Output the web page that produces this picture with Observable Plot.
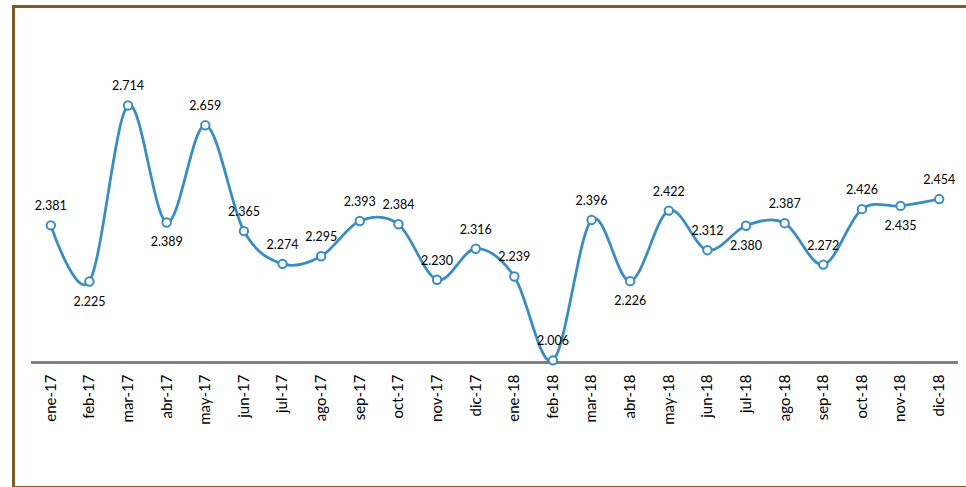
<!DOCTYPE html>
<html>
<head>
<meta charset="utf-8">
<script src="https://cdn.jsdelivr.net/npm/d3@7"></script>
<script src="https://cdn.jsdelivr.net/npm/@observablehq/plot@0.6"></script>
<style>
  html, body { margin: 0; padding: 0; background: #fff; }
  #wrap { position: relative; width: 966px; height: 487px; overflow: hidden; }
  #frame { position: absolute; left: 12px; top: 5px; width: 980px; height: 478px;
           border: 3px solid #7b5c22; box-sizing: content-box; pointer-events: none; }
  #chart { position: absolute; left: 0; top: 0; }
</style>
</head>
<body>
<div id="wrap"><div id="chart"></div><div id="frame"></div></div>
<script>
const months = ["ene-17","feb-17","mar-17","abr-17","may-17","jun-17","jul-17","ago-17","sep-17","oct-17","nov-17","dic-17",
                "ene-18","feb-18","mar-18","abr-18","may-18","jun-18","jul-18","ago-18","sep-18","oct-18","nov-18","dic-18"];
const values = [2.381,2.225,2.714,2.389,2.659,2.365,2.274,2.295,2.393,2.384,2.230,2.316,
                2.239,2.006,2.396,2.226,2.422,2.312,2.380,2.387,2.272,2.426,2.435,2.454];
const labelsBelow = ["feb-17","abr-17","abr-18","jul-18","nov-18"];

const data = months.map((m, i) => ({month: m, value: values[i]}));
const fmt = v => v.toFixed(3);
const blue = "#3a8dc1";

const chart = Plot.plot({
  width: 966,
  height: 487,
  marginLeft: 31,
  marginRight: 8,
  marginTop: 74,
  marginBottom: 125,
  style: {fontFamily: "Lato, 'Open Sans', sans-serif", background: "transparent"},
  x: {type: "point", domain: months, padding: 0.5, round: false, label: null},
  y: {domain: [2.0, 2.8], axis: null},
  marks: [
    Plot.ruleY([2.0], {stroke: "#808080", strokeWidth: 3}),
    Plot.axisX({tickRotate: -90, tickSize: 0, tickPadding: 12, fontSize: 15, fill: "#000", label: null}),
    Plot.line(data, {x: "month", y: "value", curve: "cardinal", stroke: blue, strokeWidth: 2.8}),
    Plot.dot(data, {x: "month", y: "value", r: 4.2, fill: "white", stroke: blue, strokeWidth: 2}),
    Plot.text(data.filter(d => !labelsBelow.includes(d.month)), {x: "month", y: "value", text: d => fmt(d.value), dy: -19, fontSize: 12.5, fill: "#000"}),
    Plot.text(data.filter(d => labelsBelow.includes(d.month)), {x: "month", y: "value", text: d => fmt(d.value), dy: 20, fontSize: 12.5, fill: "#000"})
  ]
});
document.getElementById("chart").appendChild(chart);
</script>
</body>
</html>
